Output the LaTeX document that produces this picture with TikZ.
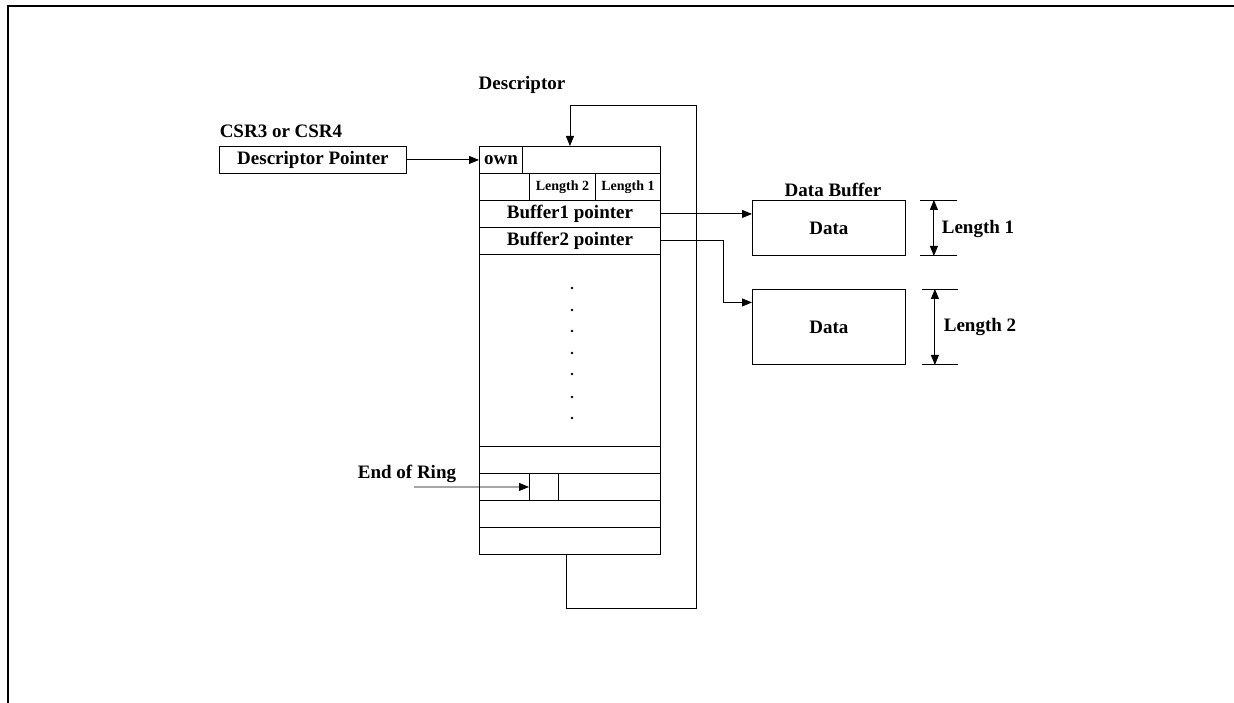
\documentclass[tikz,border=0pt]{standalone}
\usepackage{fontspec}
\setmainfont{Liberation Serif}
\usetikzlibrary{arrows.meta}

\tikzset{
	cell/.style={draw, line width=0.9pt, inner sep=0pt, anchor=north west, minimum height=27pt},
	smallcell/.style={cell, font=\bfseries\fontsize{14}{16}\selectfont},
	databox/.style={draw, line width=0.9pt, inner sep=0pt, anchor=north west, minimum width=153pt},
	arr/.style={line width=0.9pt, -{Triangle[length=10pt,width=8pt]}},
	dimarr/.style={line width=0.9pt, {Triangle[length=10pt,width=8pt]}-{Triangle[length=10pt,width=8pt]}},
	tick/.style={line width=0.9pt}
}

\begin{document}
\begin{tikzpicture}[x=1pt, y=-1pt, font=\bfseries\fontsize{19}{22}\selectfont]
	\useasboundingbox (0,0) rectangle (1234,703);
	% frame
	\draw[line width=2.5pt] (8,703) |- (1234,6);

	% descriptor pointer
	\node (csr) at (281,131) {CSR3 or CSR4};
	\node[cell, minimum width=187pt] (dp) at (219,146) {Descriptor Pointer};

	% descriptor
	\node (desc) at (522,85) {Descriptor};
	\node[cell, minimum width=181pt] (r1) at (479,146) {};
	\node[cell, minimum width=43pt] (own) at (479,146) {own};
	\node[cell, minimum width=181pt] (r2) at (479,173) {};
	\node[smallcell, minimum width=66pt] (len2) at (529,173) {Length 2};
	\node[smallcell, minimum width=65pt] (len1) at (595,173) {Length 1};
	\node[cell, minimum width=181pt] (buf1) at (479,200) {Buffer1 pointer};
	\node[cell, minimum width=181pt] (buf2) at (479,227) {Buffer2 pointer};
	\node[cell, minimum width=181pt, minimum height=192pt] (gap) at (479,254) {};
	\node[cell, minimum width=181pt] (r6) at (479,446) {};
	\node[cell, minimum width=181pt] (r7) at (479,473) {};
	\node[cell, minimum width=29pt] (eor) at (529,473) {};
	\node[cell, minimum width=181pt] (r8) at (479,500) {};
	\node[cell, minimum width=181pt] (r9) at (479,527) {};
	\foreach \y in {288,310,331,353,374,397,418}
		\fill (572,\y) circle (1.4pt);

	% ring back to the first descriptor
	\coordinate (loopbr) at (696,608);
	\coordinate (looptr) at (696,105);
	\draw[arr] ([xshift=-4pt]r9.south) |- (loopbr) |- (r1.north |- looptr) -- (r1.north);

	\draw[arr] (dp.east) -- (own.west);

	% end of ring
	\node (eorlabel) at (407,474) {End of Ring};
	\coordinate (eorin) at (414,487);
	\draw[arr] (eorin) -- (eor.west);

	% data buffers
	\node[databox, minimum height=55pt] (dat1) at (752,200) {Data};
	\node[databox, minimum height=75pt] (dat2) at (752,289) {Data};
	\node (dbuf) at (833,190) {Data Buffer};
	\draw[arr] (buf1.east) -- (buf1.east -| dat1.west);
	\draw[arr] (buf2.east) -- ++(63,0) |- ([yshift=24.5pt]dat2.west);

	% lengths
	\draw[tick] ([xshift=14pt]dat1.north east) -- ++(37,0);
	\draw[tick] ([xshift=14pt]dat1.south east) -- ++(37,0);
	\draw[dimarr] ([xshift=28pt]dat1.north east) -- ([xshift=28pt]dat1.south east);
	\node (l1) at (978,229) {Length 1};
	\draw[tick] ([xshift=16pt]dat2.north east) -- ++(36,0);
	\draw[tick] ([xshift=16pt]dat2.south east) -- ++(36,0);
	\draw[dimarr] ([xshift=29pt]dat2.north east) -- ([xshift=29pt]dat2.south east);
	\node (l2) at (980,327) {Length 2};
\end{tikzpicture}
\end{document}
